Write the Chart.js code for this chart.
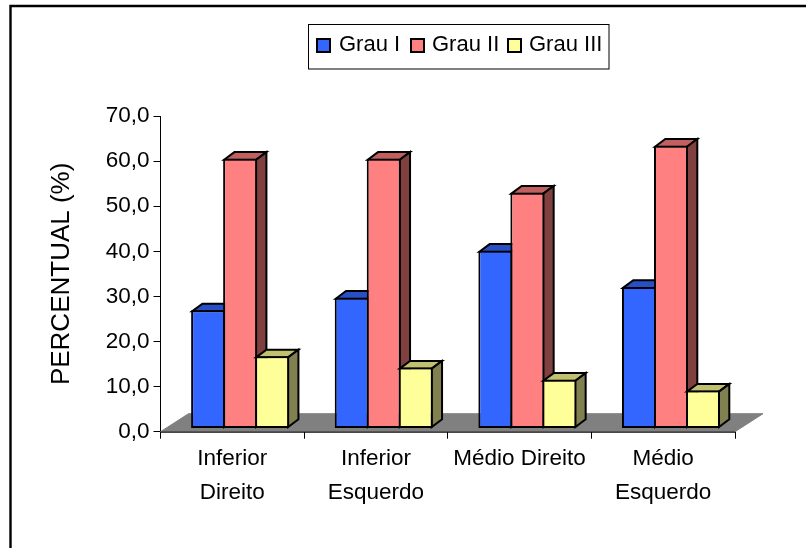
<!DOCTYPE html>
<html>
<head>
<meta charset="utf-8">
<style>html,body{margin:0;padding:0;background:#fff}canvas{display:block}</style>
<script src="https://cdn.jsdelivr.net/npm/chart.js@4"></script>
</head>
<body>
<canvas id="c" width="806" height="548"></canvas>
<script>
const categories = [['Inferior','Direito'],['Inferior','Esquerdo'],['Médio Direito'],['Médio','Esquerdo']];
const grauI = [26.2, 29.0, 39.4, 31.4];
const grauII = [59.8, 59.8, 52.3, 62.7];
const grauIII = [16.0, 13.5, 10.8, 8.4];
const seriesNames = ['Grau I','Grau II','Grau III'];
const fronts = ['#3366FF','#FF8080','#FFFF99'];
const tops = ['#284FC4','#C06060','#C0C070'];
const sides = ['#1A3380','#804040','#808050'];
const FONT = '"Liberation Sans", Arial, sans-serif';
const SHIFT_X = 7.8, SHIFT_Y = -3.2, DEPTH_X = 10.3, DEPTH_Y = 7.7;

const poly = (ctx, pts, fill) => {
  ctx.beginPath();
  pts.forEach((p, i) => i ? ctx.lineTo(p[0], p[1]) : ctx.moveTo(p[0], p[1]));
  ctx.closePath();
  ctx.fillStyle = fill;
  ctx.fill();
  ctx.stroke();
};

const threeD = {
  id: 'threeD',
  beforeDatasetsDraw(chart) {
    const {ctx, scales: {x, y}} = chart;
    const y0 = y.getPixelForValue(0);
    ctx.save();
    ctx.strokeStyle = '#808080';
    ctx.lineWidth = 1;
    poly(ctx, [[x.left, y0], [x.left + 28, y0 - 18], [x.right + 28, y0 - 18], [x.right, y0]], '#808080');
    ctx.strokeStyle = '#000';
    ctx.beginPath();
    ctx.moveTo(x.left, y0 + 0.5);
    ctx.lineTo(x.right, y0 + 0.5);
    ctx.stroke();
    ctx.restore();
    // Series are painted left to right, so each front covers its neighbour's depth faces.
    chart.getSortedVisibleDatasetMetas().forEach(meta => {
      const i = meta.index;
      ctx.save();
      ctx.translate(SHIFT_X, SHIFT_Y);
      ctx.strokeStyle = '#000';
      ctx.lineWidth = 2;
      ctx.lineJoin = 'miter';
      meta.data.forEach(el => {
        const l = el.x - el.width / 2 + 1, r = el.x + el.width / 2 - 1;
        const t = el.y + 1, b = el.base - 1;
        poly(ctx, [[l, t], [l + DEPTH_X, t - DEPTH_Y], [r + DEPTH_X, t - DEPTH_Y], [r, t]], tops[i]);
        poly(ctx, [[r, t], [r + DEPTH_X, t - DEPTH_Y], [r + DEPTH_X, b - DEPTH_Y], [r, b]], sides[i]);
      });
      meta.controller.draw();
      ctx.restore();
    });
    return false;
  },
  afterDraw(chart) {
    const ctx = chart.ctx;
    ctx.save();
    // outer frame
    ctx.strokeStyle = '#000';
    ctx.lineWidth = 2.4;
    ctx.beginPath();
    ctx.moveTo(10.5, 548);
    ctx.lineTo(10.5, 6);
    ctx.lineTo(806, 6);
    ctx.stroke();
    // legend
    ctx.lineWidth = 1;
    ctx.fillStyle = '#fff';
    ctx.fillRect(308.5, 24.5, 300.5, 44.5);
    ctx.strokeRect(308.5, 24.5, 300.5, 44.5);
    const swatch = [316, 410, 507];
    const label = [339, 432, 529];
    ctx.font = '22px ' + FONT;
    ctx.textBaseline = 'middle';
    ctx.textAlign = 'left';
    chart.data.datasets.forEach((d, i) => {
      ctx.lineWidth = 2;
      ctx.fillStyle = fronts[i];
      ctx.fillRect(swatch[i] + 1, 39, 13, 13);
      ctx.strokeRect(swatch[i] + 1, 39, 13, 13);
      ctx.fillStyle = '#000';
      ctx.fillText(d.label, label[i], 45);
    });
    ctx.restore();
  }
};

const mk = (i, data) => ({
  label: seriesNames[i],
  data,
  backgroundColor: fronts[i],
  borderColor: '#000',
  borderWidth: 2,
  borderSkipped: false
});

new Chart(document.getElementById('c'), {
  type: 'bar',
  data: {
    labels: categories,
    datasets: [mk(0, grauI), mk(1, grauII), mk(2, grauIII)]
  },
  plugins: [threeD],
  options: {
    responsive: false,
    animation: false,
    events: [],
    layout: {padding: {left: 0, top: 116, right: 71, bottom: 0}},
    plugins: {legend: {display: false}, tooltip: {enabled: false}, title: {display: false}},
    datasets: {bar: {categoryPercentage: 96 / 143.6, barPercentage: 34 / 32}},
    scales: {
      x: {
        grid: {display: true, drawOnChartArea: false, offset: true, color: '#000', tickLength: 7, tickColor: '#000'},
        border: {display: true, color: '#000', width: 1},
        ticks: {color: '#000', font: {family: FONT, size: 22.5, lineHeight: 1.47}, padding: 4, maxRotation: 0, minRotation: 0, autoSkip: false},
        afterFit(s) { s.height = 116.3; }
      },
      y: {
        min: 0,
        max: 70,
        grid: {display: true, drawOnChartArea: false, color: '#000', tickLength: 7, tickColor: '#000'},
        border: {display: true, color: '#000', width: 1},
        ticks: {stepSize: 10, color: '#000', font: {family: FONT, size: 22.5}, padding: 4,
          callback: v => v.toFixed(1).replace('.', ',')},
        title: {display: true, text: 'PERCENTUAL (%)', color: '#000', font: {family: FONT, size: 26}, padding: {top: 46, bottom: 0}},
        afterFit(s) { s.width = 160.5; }
      }
    }
  }
});
</script>
</body>
</html>
